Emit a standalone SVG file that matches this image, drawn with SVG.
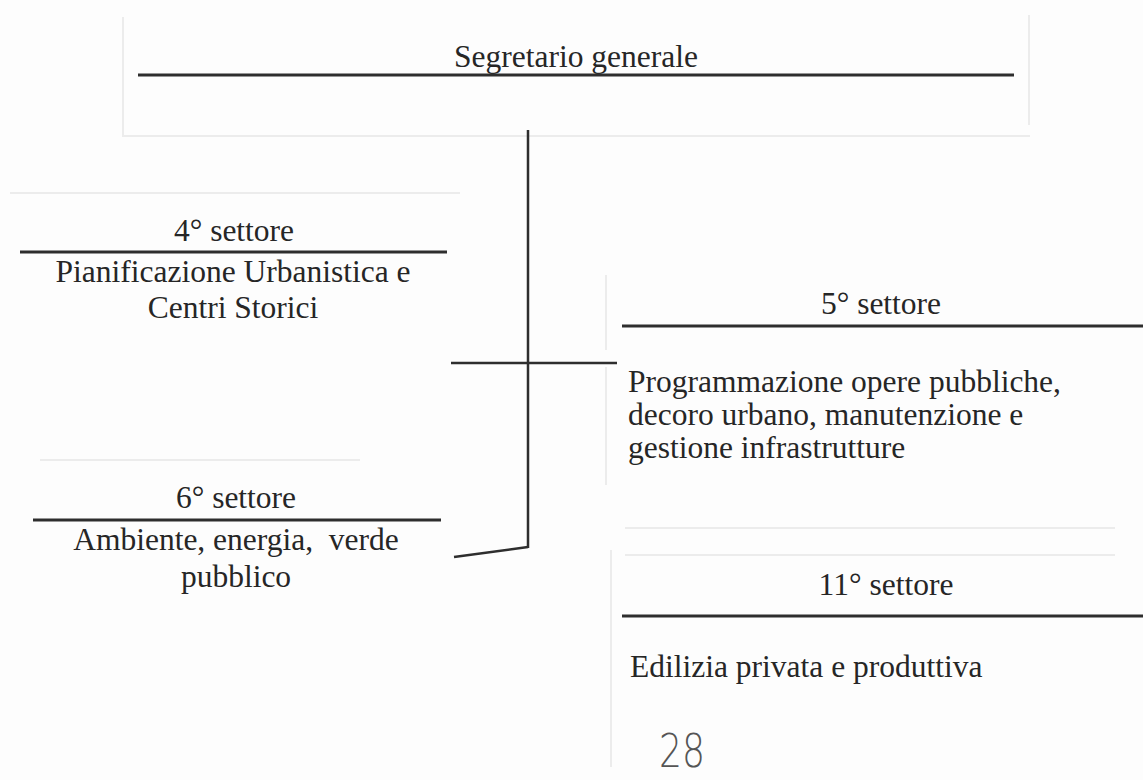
<svg xmlns="http://www.w3.org/2000/svg" width="1143" height="780" viewBox="0 0 1143 780">
<style>
.t{font-family:"Liberation Serif","Times New Roman",serif;font-size:31.5px;fill:#262626}
.c{text-anchor:middle}
.rule{stroke:#2e2e2e;stroke-width:3;fill:none}
.conn{stroke:#2e2e2e;stroke-width:2.5;fill:none}
.faint{stroke:#ececec;stroke-width:2;fill:none}
</style>
<rect width="1143" height="780" fill="#fdfdfd"/>
<g id="faint-borders">
<path class="faint" d="M123 17V137M1029 15V125M123 136H1030M10 193H460M606 275V350M606 367V485M611 550V767M625 528H1115M625 555H1115M40 460H360"/>
</g>
<g id="node-segretario">
<text class="t c" x="576" y="67">Segretario generale</text>
<line class="rule" x1="138" y1="75" x2="1014" y2="75"/>
</g>
<g id="node-4">
<text class="t c" x="234" y="241">4° settore</text>
<line class="rule" x1="20" y1="252" x2="447" y2="252"/>
<text class="t c" x="233" y="282">Pianificazione Urbanistica e</text>
<text class="t c" x="233" y="318">Centri Storici</text>
</g>
<g id="node-5">
<text class="t c" x="881" y="314">5° settore</text>
<line class="rule" x1="622" y1="326" x2="1143" y2="326"/>
<text class="t" x="628" y="392">Programmazione opere pubbliche,</text>
<text class="t" x="628" y="425">decoro urbano, manutenzione e</text>
<text class="t" x="628" y="458">gestione infrastrutture</text>
</g>
<g id="node-6">
<text class="t c" x="236" y="508">6° settore</text>
<line class="rule" x1="33" y1="520" x2="441" y2="520"/>
<text class="t c" x="236" y="550" xml:space="preserve">Ambiente, energia,  verde</text>
<text class="t c" x="236" y="587">pubblico</text>
</g>
<g id="node-11">
<text class="t c" x="886" y="595">11° settore</text>
<line class="rule" x1="622" y1="616" x2="1143" y2="616"/>
<text class="t" x="630" y="677">Edilizia privata e produttiva</text>
</g>
<g id="connectors">
<line class="conn" x1="528" y1="130" x2="528" y2="548"/>
<line class="conn" x1="451" y1="363" x2="617" y2="363"/>
<line class="conn" x1="528" y1="547" x2="454" y2="557"/>
</g>
<g id="page-number">
<text x="659" y="767" textLength="46" lengthAdjust="spacingAndGlyphs" style="font-family:'DejaVu Sans',sans-serif;font-size:46px;font-weight:200;fill:#555">28</text>
</g>
</svg>
